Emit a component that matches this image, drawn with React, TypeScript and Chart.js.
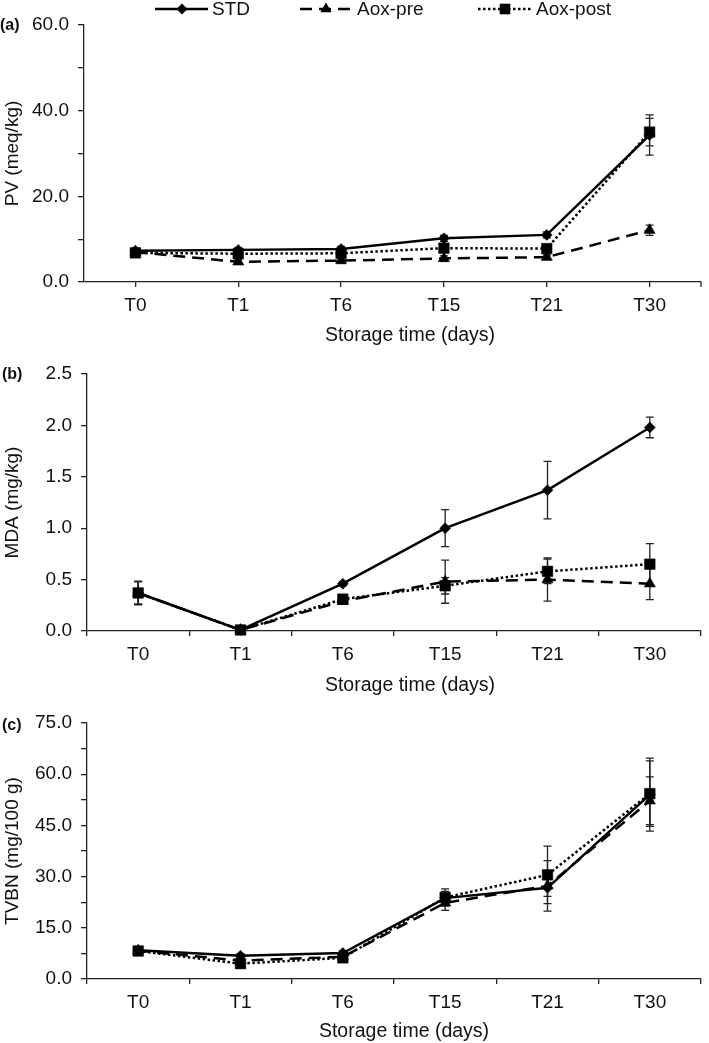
import React, { useEffect, useRef } from 'react';
import { Chart, registerables } from 'chart.js';

Chart.register(...registerables);

// ---------- data ----------
const categories = ['T0', 'T1', 'T6', 'T15', 'T21', 'T30'];
const seriesNames = ['STD', 'Aox-pre', 'Aox-post'];

// (a) PV (meq/kg)
const pvStd = [7.3, 7.5, 7.7, 10.2, 11.0, 34.3];
const pvPre = [7.0, 4.7, 5.0, 5.5, 5.8, 12.1];
const pvPost = [6.8, 6.6, 6.7, 7.9, 7.8, 35.0];
const pvStdErr = [0.6, 0.5, 0.6, 0.7, 0.7, 4.7];
const pvPreErr = [0.5, 0.6, 0.6, 0.6, 0.5, 1.2];
const pvPostErr = [0.6, 0.5, 0.5, 0.6, 0.6, 3.2];

// (b) MDA (mg/kg)
const mdaStd = [0.37, 0.01, 0.46, 1.0, 1.37, 1.98];
const mdaPre = [0.37, 0.01, 0.29, 0.48, 0.5, 0.46];
const mdaPost = [0.37, 0.01, 0.31, 0.44, 0.58, 0.65];
const mdaStdErr = [0.115, 0.01, 0.02, 0.18, 0.28, 0.1];
const mdaPreErr = [0.11, 0.01, 0.03, 0.21, 0.21, 0.155];
const mdaPostErr = [0.11, 0.01, 0.03, 0.08, 0.12, 0.2];

// (c) TVBN (mg/100 g)
const tvbnStd = [8.4, 6.8, 7.6, 23.7, 26.7, 54.0];
const tvbnPre = [8.3, 5.4, 6.5, 22.3, 27.3, 52.2];
const tvbnPost = [8.2, 4.5, 6.2, 23.9, 30.5, 54.3];
const tvbnStdErr = [0.6, 0.6, 0.6, 2.0, 2.5, 10.7];
const tvbnPreErr = [0.6, 0.6, 0.6, 2.2, 7.4, 7.0];
const tvbnPostErr = [0.6, 0.6, 0.6, 2.5, 8.4, 9.6];

const xTitle = 'Storage time (days)';

// ---------- styles ----------
const FONT = '"Liberation Sans", Arial, sans-serif';
const INK = '#111';
const AXIS = '#222';

const seriesStyles = [
  { pointStyle: 'rectRot', radius: 5.5, dash: [] as number[], order: 2 },
  { pointStyle: 'triangle', radius: 6.5, dash: [12, 7], order: 1 },
  { pointStyle: 'rect', radius: 7.5, dash: [2.5, 2.5], order: 0 },
];

function drawMarker(ctx: CanvasRenderingContext2D, style: string, x: number, y: number, r: number) {
  ctx.beginPath();
  if (style === 'rectRot') {
    ctx.moveTo(x - r, y);
    ctx.lineTo(x, y - r);
    ctx.lineTo(x + r, y);
    ctx.lineTo(x, y + r);
  } else if (style === 'triangle') {
    ctx.moveTo(x, y - r);
    ctx.lineTo(x + r * 0.866, y + r * 0.5);
    ctx.lineTo(x - r * 0.866, y + r * 0.5);
  } else {
    const s = r * Math.SQRT1_2;
    ctx.rect(x - s, y - s, 2 * s, 2 * s);
  }
  ctx.closePath();
  ctx.fill();
}

const errorBarPlugin = {
  id: 'errorBars',
  beforeDatasetsDraw(chart: any) {
    const ctx = chart.ctx;
    const y = chart.scales.y;
    ctx.save();
    ctx.strokeStyle = AXIS;
    ctx.lineWidth = 1.3;
    chart.data.datasets.forEach((ds: any, i: number) => {
      const meta = chart.getDatasetMeta(i);
      const errs: number[] = ds.errors;
      if (!errs) return;
      meta.data.forEach((pt: any, j: number) => {
        const v = ds.data[j];
        const e = errs[j];
        const x = pt.x;
        const yt = y.getPixelForValue(v + e);
        const yb = y.getPixelForValue(Math.max(0, v - e));
        ctx.beginPath();
        ctx.moveTo(x, yt);
        ctx.lineTo(x, yb);
        ctx.moveTo(x - 4, yt);
        ctx.lineTo(x + 4, yt);
        ctx.moveTo(x - 4, yb);
        ctx.lineTo(x + 4, yb);
        ctx.stroke();
      });
    });
    ctx.restore();
  },
};

function makeDecorPlugin(p: PanelSpec) {
  return {
    id: 'decor',
    afterDraw(chart: any) {
      const ctx = chart.ctx as CanvasRenderingContext2D;
      ctx.save();
      ctx.fillStyle = INK;
      ctx.font = `bold 16px ${FONT}`;
      ctx.textBaseline = 'middle';
      ctx.textAlign = 'left';
      ctx.fillText(p.label, p.labelX, p.labelY);

      // x axis title
      ctx.font = `19.5px ${FONT}`;
      ctx.textAlign = 'center';
      ctx.fillText(xTitle, p.xTitleX, chart.height - 11);

      if (!p.gridOffset) {
        const a = chart.chartArea;
        ctx.strokeStyle = AXIS;
        ctx.lineWidth = 1.3;
        ctx.beginPath();
        ctx.moveTo(a.right, a.bottom);
        ctx.lineTo(a.right, a.bottom + 5);
        ctx.stroke();
      }
      if (p.legend) {
        const items = [
          { x0: 155, x1: 208, mx: 182, tx: 212 },
          { x0: 300, x1: 353, mx: 326, tx: 357 },
          { x0: 478, x1: 532, mx: 505, tx: 536 },
        ];
        const yy = 9;
        ctx.textAlign = 'left';
        items.forEach((it, k) => {
          const st = seriesStyles[k];
          ctx.strokeStyle = '#000';
          ctx.fillStyle = '#000';
          ctx.lineWidth = 2.5;
          ctx.setLineDash(st.dash);
          ctx.beginPath();
          ctx.moveTo(it.x0, yy);
          ctx.lineTo(it.x1, yy);
          ctx.stroke();
          ctx.setLineDash([]);
          drawMarker(ctx, st.pointStyle, it.mx, yy, st.radius);
          ctx.fillStyle = INK;
          ctx.font = `19px ${FONT}`;
          ctx.textBaseline = 'middle';
          ctx.fillText(seriesNames[k], it.tx, yy + 1);
        });
      }
      ctx.restore();
    },
  };
}

interface PanelSpec {
  values: number[][];
  errors: number[][];
  yMax: number;
  step: number;
  labelEvery: number;
  yTitle: string;
  yWidth: number;
  xHeight: number;
  padTop: number;
  padRight: number;
  gridOffset: boolean;
  label: string;
  labelX: number;
  labelY: number;
  legend: boolean;
  xTitleX: number;
}

function buildConfig(p: PanelSpec): any {
  return {
    type: 'line',
    data: {
      labels: categories,
      datasets: p.values.map((vals, k) => ({
        label: seriesNames[k],
        data: vals,
        errors: p.errors[k],
        borderColor: '#000',
        backgroundColor: '#000',
        borderWidth: 2.5,
        borderDash: seriesStyles[k].dash,
        borderCapStyle: 'butt',
        pointStyle: seriesStyles[k].pointStyle,
        pointRadius: seriesStyles[k].radius,
        pointBorderWidth: 0.5,
        pointBorderColor: '#000',
        pointBackgroundColor: '#000',
        tension: 0,
        fill: false,
        clip: false,
        order: seriesStyles[k].order,
      })),
    },
    options: {
      responsive: false,
      animation: false,
      devicePixelRatio: 1,
      layout: { padding: { top: p.padTop, right: p.padRight, left: 0, bottom: 0 } },
      plugins: { legend: { display: false }, tooltip: { enabled: false } },
      scales: {
        x: {
          type: 'category',
          offset: true,
          afterFit: (s: any) => {
            s.height = p.xHeight;
          },
          border: { display: true, color: AXIS, width: 1.3 },
          grid: {
            drawOnChartArea: false,
            drawTicks: true,
            tickLength: 5,
            color: AXIS,
            lineWidth: 1.3,
            offset: p.gridOffset,
          },
          ticks: { color: INK, font: { family: FONT, size: 19 }, padding: 7, maxRotation: 0 },
          title: { display: false },
        },
        y: {
          min: 0,
          max: p.yMax,
          afterFit: (s: any) => {
            s.width = p.yWidth;
          },
          border: { display: true, color: AXIS, width: 1.3 },
          grid: { drawOnChartArea: false, drawTicks: true, tickLength: 6, color: AXIS, lineWidth: 1.3 },
          ticks: {
            stepSize: p.step,
            autoSkip: false,
            color: INK,
            font: { family: FONT, size: 19 },
            padding: 9,
            callback: (v: number) => {
              const r = v / p.labelEvery;
              return Math.abs(r - Math.round(r)) < 1e-6 ? v.toFixed(1) : '';
            },
          },
          title: {
            display: true,
            text: p.yTitle,
            color: INK,
            font: { family: FONT, size: 19 },
            padding: { top: 1, bottom: 0 },
          },
        },
      },
    },
    plugins: [errorBarPlugin, makeDecorPlugin(p)],
  };
}

const panels: { top: number; height: number; spec: PanelSpec }[] = [
  {
    top: 0,
    height: 347,
    spec: {
      values: [pvStd, pvPre, pvPost],
      errors: [pvStdErr, pvPreErr, pvPostErr],
      yMax: 60,
      step: 10,
      labelEvery: 20,
      yTitle: 'PV (meq/kg)',
      yWidth: 84,
      xHeight: 65,
      padTop: 25,
      padRight: 4,
      gridOffset: false,
      label: '(a)',
      labelX: 0,
      labelY: 26,
      legend: true,
      xTitleX: 410,
    },
  },
  {
    top: 347,
    height: 350,
    spec: {
      values: [mdaStd, mdaPre, mdaPost],
      errors: [mdaStdErr, mdaPreErr, mdaPostErr],
      yMax: 2.5,
      step: 0.5,
      labelEvery: 0.5,
      yTitle: 'MDA (mg/kg)',
      yWidth: 87,
      xHeight: 66,
      padTop: 27,
      padRight: 3,
      gridOffset: true,
      label: '(b)',
      labelX: 2,
      labelY: 28,
      legend: false,
      xTitleX: 410,
    },
  },
  {
    top: 697,
    height: 346,
    spec: {
      values: [tvbnStd, tvbnPre, tvbnPost],
      errors: [tvbnStdErr, tvbnPreErr, tvbnPostErr],
      yMax: 75,
      step: 7.5,
      labelEvery: 15,
      yTitle: 'TVBN (mg/100 g)',
      yWidth: 87,
      xHeight: 64,
      padTop: 26,
      padRight: 2,
      gridOffset: true,
      label: '(c)',
      labelX: 2,
      labelY: 29,
      legend: false,
      xTitleX: 404,
    },
  },
];

export default function App() {
  const refs = [useRef<HTMLCanvasElement>(null), useRef<HTMLCanvasElement>(null), useRef<HTMLCanvasElement>(null)];

  useEffect(() => {
    const charts = panels.map((p, i) => new Chart(refs[i].current as HTMLCanvasElement, buildConfig(p.spec)));
    return () => charts.forEach((c) => c.destroy());
  }, []);

  return (
    <div style={{ position: 'absolute', left: 0, top: 0, width: 709, height: 1043, background: '#fff' }}>
      {panels.map((p, i) => (
        <canvas
          key={i}
          ref={refs[i]}
          width={709}
          height={p.height}
          style={{ position: 'absolute', left: 0, top: p.top, width: 709, height: p.height, display: 'block' }}
        />
      ))}
    </div>
  );
}
